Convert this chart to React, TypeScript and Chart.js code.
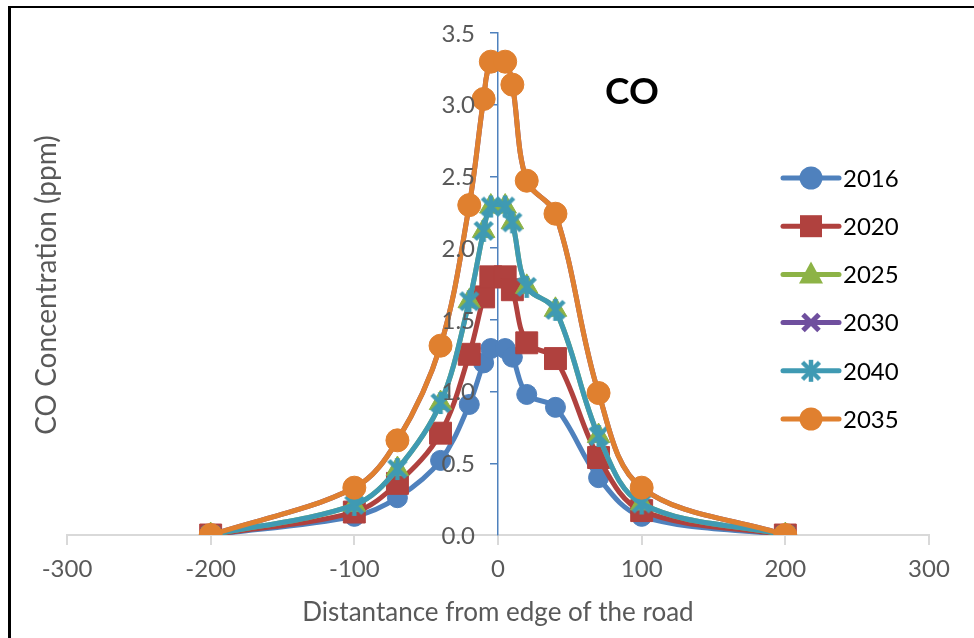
import React, { useEffect, useRef } from "react";
import { Chart, registerables } from "chart.js";

Chart.register(...registerables);

const xValues = [-200, -100, -70, -40, -20, -10, -5, 5, 10, 20, 40, 70, 100, 200];
const y2016 = [0, 0.13, 0.26, 0.52, 0.91, 1.2, 1.3, 1.3, 1.24, 0.98, 0.89, 0.4, 0.13, 0];
const y2020 = [0, 0.16, 0.36, 0.71, 1.26, 1.66, 1.8, 1.8, 1.71, 1.34, 1.23, 0.54, 0.17, 0];
const y2025 = [0, 0.21, 0.46, 0.92, 1.63, 2.12, 2.29, 2.29, 2.18, 1.73, 1.57, 0.69, 0.22, 0];
const y2030 = [0, 0.33, 0.66, 1.32, 2.3, 3.04, 3.3, 3.3, 3.14, 2.47, 2.24, 0.99, 0.33, 0];
const y2040 = [0, 0.21, 0.46, 0.92, 1.63, 2.12, 2.29, 2.29, 2.18, 1.73, 1.57, 0.69, 0.22, 0];
const y2035 = [0, 0.33, 0.66, 1.32, 2.3, 3.04, 3.3, 3.3, 3.14, 2.47, 2.24, 0.99, 0.33, 0];

const seriesNames = ["2016", "2020", "2025", "2030", "2040", "2035"];
const seriesValues = [y2016, y2020, y2025, y2030, y2040, y2035];
const seriesColors = ["#4F81BD", "#B0413E", "#8DB346", "#6F4F9E", "#3F9AB3", "#E0802F"];
const yTicks = [0, 0.5, 1, 1.5, 2, 2.5, 3, 3.5];
const xTicks = [-300, -200, -100, 0, 100, 200, 300];

const FONT = "Lato, 'Open Sans', sans-serif";

function makeStar(color: string, size: number) {
  const c = document.createElement("canvas");
  c.width = size;
  c.height = size;
  const g = c.getContext("2d")!;
  g.strokeStyle = color;
  g.lineWidth = 4.5;
  const m = 3.5;
  g.beginPath();
  g.moveTo(m, m);
  g.lineTo(size - m, size - m);
  g.moveTo(size - m, m);
  g.lineTo(m, size - m);
  g.moveTo(size / 2, 1);
  g.lineTo(size / 2, size - 1);
  g.stroke();
  return c;
}

export default function App() {
  const ref = useRef<HTMLCanvasElement>(null);
  useEffect(() => {
    const star = makeStar(seriesColors[4], 24);
    const styles: any[] = ["circle", "rect", "triangle", "crossRot", star, "circle"];
    const radii = [10, 15.5, 13, 11, 12, 11.5];
    const bw = [1, 1, 1, 5, 1, 1];

    const datasets = seriesNames.map((name, i) => ({
      label: name,
      data: xValues.map((x, j) => ({ x, y: seriesValues[i][j] })),
      showLine: true,
      borderColor: seriesColors[i],
      backgroundColor: seriesColors[i],
      borderWidth: 5,
      tension: 0.35,
      pointStyle: styles[i],
      pointRadius: radii[i],
      pointHoverRadius: radii[i],
      pointBorderWidth: bw[i],
      pointBorderColor: seriesColors[i],
      pointBackgroundColor: seriesColors[i],
      order: seriesNames.length - i,
    }));

    const deco = {
      id: "deco",
      beforeDraw(chart: any) {
        const ctx = chart.ctx;
        ctx.save();
        ctx.fillStyle = "#ffffff";
        ctx.fillRect(0, 0, chart.width, chart.height);
        ctx.fillStyle = "#000000";
        ctx.fillRect(8, 6, 3, chart.height);
        ctx.fillRect(8, 6, chart.width, 2);
        ctx.restore();
      },
      afterDraw(chart: any) {
        const ctx = chart.ctx;
        const xs = chart.scales.x;
        const ys = chart.scales.y;
        ctx.save();
        // y tick labels next to the axis at x = 0
        const ax = xs.getPixelForValue(0);
        ctx.fillStyle = "#595959";
        ctx.font = `24px ${FONT}`;
        ctx.textAlign = "right";
        ctx.textBaseline = "middle";
        yTicks.forEach((v) => {
          ctx.fillText(v.toFixed(1), ax - 23, ys.getPixelForValue(v) + 1);
        });
        // title
        ctx.fillStyle = "#000000";
        ctx.font = `bold 37px ${FONT}`;
        ctx.textAlign = "center";
        ctx.textBaseline = "middle";
        ctx.fillText("CO", 632, 92);
        // y title
        ctx.save();
        ctx.translate(47, 285);
        ctx.rotate(-Math.PI / 2);
        ctx.fillStyle = "#595959";
        ctx.font = `28px ${FONT}`;
        ctx.fillText("CO Concentration (ppm)", 0, 0);
        ctx.restore();
        // legend
        const lx0 = 783, lx1 = 839, mx = 811, tx = 843;
        seriesNames.forEach((name, i) => {
          const y = 178 + i * 48.2;
          const col = seriesColors[i];
          ctx.strokeStyle = col;
          ctx.fillStyle = col;
          ctx.lineWidth = 5;
          ctx.lineCap = "round";
          ctx.beginPath();
          ctx.moveTo(lx0, y);
          ctx.lineTo(lx1, y);
          ctx.stroke();
          ctx.lineCap = "butt";
          const st = styles[i];
          if (st === "circle") {
            ctx.beginPath();
            ctx.arc(mx, y, 11.5, 0, Math.PI * 2);
            ctx.fill();
          } else if (st === "rect") {
            ctx.fillRect(mx - 11, y - 11, 22, 22);
          } else if (st === "triangle") {
            ctx.beginPath();
            ctx.moveTo(mx, y - 13);
            ctx.lineTo(mx + 12, y + 9);
            ctx.lineTo(mx - 12, y + 9);
            ctx.closePath();
            ctx.fill();
          } else if (st === "crossRot") {
            ctx.lineWidth = 5;
            ctx.beginPath();
            ctx.moveTo(mx - 8, y - 8);
            ctx.lineTo(mx + 8, y + 8);
            ctx.moveTo(mx + 8, y - 8);
            ctx.lineTo(mx - 8, y + 8);
            ctx.stroke();
          } else {
            ctx.drawImage(st, mx - st.width / 2, y - st.height / 2);
          }
          ctx.fillStyle = "#000000";
          ctx.font = `24px ${FONT}`;
          ctx.textAlign = "left";
          ctx.textBaseline = "middle";
          ctx.fillText(name, tx, y + 1);
        });
        ctx.restore();
      },
    };

    const chart = new Chart(ref.current!, {
      type: "scatter",
      data: { datasets },
      options: {
        animation: false,
        responsive: false,
        events: [],
        layout: { padding: { left: 67, right: 45, top: 33, bottom: 0 } },
        plugins: { legend: { display: false }, tooltip: { enabled: false } },
        scales: {
          x: {
            type: "linear",
            min: -300,
            max: 300,
            afterBuildTicks: (s: any) => {
              s.ticks = xTicks.map((v) => ({ value: v }));
            },
            ticks: { color: "#595959", font: { family: FONT, size: 24 }, padding: 10 },
            grid: { display: true, drawOnChartArea: false, drawTicks: true, tickLength: 10, color: "#d9d9d9", lineWidth: 2 },
            border: { display: true, color: "#d9d9d9", width: 2 },
            title: {
              display: true,
              text: "Distantance from edge of the road",
              color: "#595959",
              font: { family: FONT, size: 26 },
              padding: { top: 0, bottom: 10 },
            },
            afterFit: (s: any) => {
              s.height = 103;
            },
          },
          y: {
            type: "linear",
            min: 0,
            max: 3.5,
            position: { x: 0 } as any,
            afterBuildTicks: (s: any) => {
              s.ticks = yTicks.map((v) => ({ value: v }));
            },
            ticks: { display: false },
            grid: { display: true, drawOnChartArea: false, drawTicks: true, tickLength: 7, color: "#4F81BD", lineWidth: 1.5 },
            border: { display: true, color: "#4F81BD", width: 1.5 },
          },
        },
      },
      plugins: [deco],
    } as any);
    return () => chart.destroy();
  }, []);
  return (
    <div style={{ position: "absolute", left: 0, top: 0, width: 974, height: 638 }}>
      <canvas ref={ref} width={974} height={638} />
    </div>
  );
}
